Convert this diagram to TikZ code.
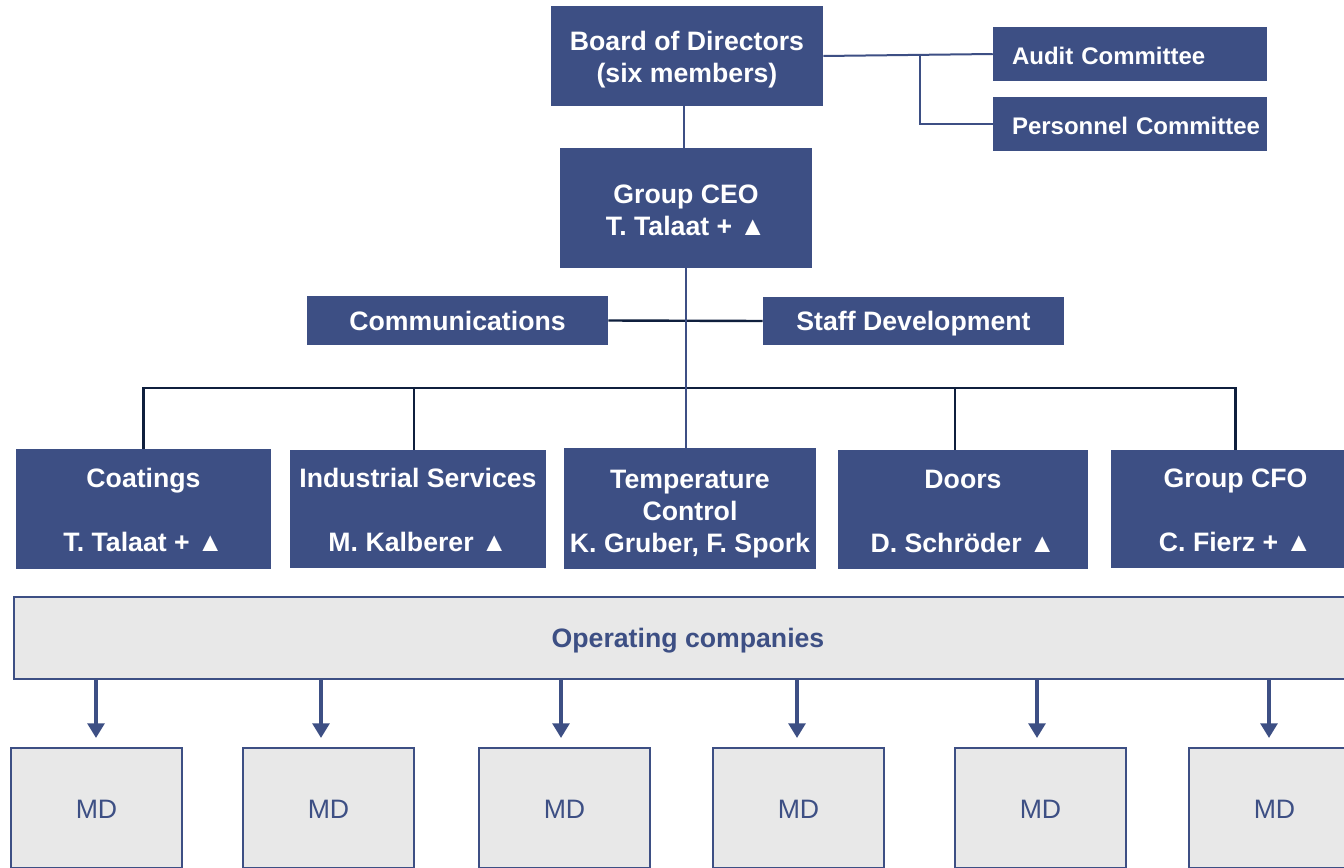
\documentclass[tikz,border=0pt]{standalone}
\usepackage{fontspec}
\setmainfont{Liberation Sans}
\usetikzlibrary{arrows.meta}
\definecolor{navy}{HTML}{3D4F84}
\definecolor{busc}{HTML}{0F1F3D}
\definecolor{lgrey}{HTML}{E8E8E8}
\newcommand\tstrut[1]{\rule{0pt}{#1}}
\tikzset{
  dim/.style 2 args={minimum width={#1*0.75pt}, minimum height={#2*0.75pt}},
  navybox/.style={fill=navy, draw=none, text=white, align=center, inner sep=0pt,
    font=\bfseries\fontsize{20}{24}\selectfont},
  combox/.style={fill=navy, draw=none, text=white, align=left, inner xsep=14.25pt,
    inner ysep=0pt, text width=177pt, font=\bfseries\fontsize{18}{22}\selectfont},
  greybox/.style={fill=lgrey, draw=navy, line width=1.5pt, text=navy, align=center,
    inner sep=0pt},
  link/.style={draw=navy, line width=1.5pt},
  busline/.style={draw=busc, line width=1.8pt},
  arr/.style={draw=navy, line width=3pt, -{Triangle[width=12.5pt,length=11pt]}},
}
\begin{document}
\begin{tikzpicture}[x=0.75pt,y=-0.75pt]
\clip (0,0) rectangle (1344,867);
\fill[white] (0,0) rectangle (1344,867);

% top
\node[navybox, dim={272}{100}] (board) at (687,56) {\tstrut{20.3pt}Board of Directors\\(six members)};
\node[combox, dim={274}{54}] (audit) at (1130,54) {\tstrut{15.5pt}Audit Committee};
\node[combox, dim={274}{54}] (pers) at (1130,124) {\mbox{\tstrut{15.5pt}Personnel Committee}};
\node[navybox, dim={252}{120}] (ceo) at (686,208) {\tstrut{17.3pt}Group CEO\\T. Talaat + ▲};
\node[navybox, dim={301}{49}] (comm) at (457.5,320.5) {\tstrut{15.5pt}Communications};
\node[navybox, dim={301}{48}] (staff) at (913.5,321) {\tstrut{19pt}Staff Development};

% divisions
\node[navybox, dim={255}{120}] (coat) at (143.5,509) {\tstrut{16.5pt}Coatings\\\strut\\T. Talaat + ▲};
\node[navybox, dim={256}{118}] (ind) at (418,509) {\tstrut{16.5pt}Industrial Services\\\strut\\M. Kalberer ▲};
\node[navybox, dim={252}{121}] (temp) at (690,508.5) {\tstrut{22pt}Temperature\\Control\\K. Gruber, F. Spork};
\node[navybox, dim={250}{119}] (doors) at (963,509.5) {\tstrut{16.5pt}Doors\\\strut\\D. Schröder ▲};
\node[navybox, dim={249}{118}] (cfo) at (1235.5,509) {\tstrut{16.5pt}Group CFO\\\strut\\C. Fierz + ▲};

% operating companies
\node[greybox, dim={1348}{82}, font=\bfseries\fontsize{20}{24}\selectfont] (opco) at (688,638) {\tstrut{18.8pt}Operating companies};

% MD boxes
\foreach \n/\cx in {1/96.5,2/328.5,3/564.5,4/798.5,5/1040.5,6/1274.5}{
  \node[greybox, dim={171}{120}, font=\fontsize{20}{24}\selectfont] (md\n) at (\cx,808) {\tstrut{15.5pt}MD};
}

% connectors
\draw[link] ([xshift=-2pt]board.south) -- ([xshift=-2pt]board.south |- ceo.north);
\draw[link] (board.east) -- (audit.west);
\coordinate (j) at (920,56);
\draw[link] (j) |- (pers.west);
\draw[busline] (comm.east) -- (staff.west);
\coordinate (busy) at (0,388);
\draw[busline] (coat.north) |- (busy -| cfo.north) -- (cfo.north);
\draw[busline] ([xshift=-3pt]ind.north) -- ([xshift=-3pt]ind.north |- busy);
\draw[busline] ([xshift=-6pt]doors.north) -- ([xshift=-6pt]doors.north |- busy);
\draw[link] (ceo.south) -- (ceo.south |- temp.north);

% arrows
\foreach \n/\ax in {1/96,2/321,3/561,4/797,5/1037,6/1269}{
  \coordinate (a\n) at (\ax,738);
  \draw[arr] (opco.south -| a\n) -- (a\n);
}
\end{tikzpicture}
\end{document}
